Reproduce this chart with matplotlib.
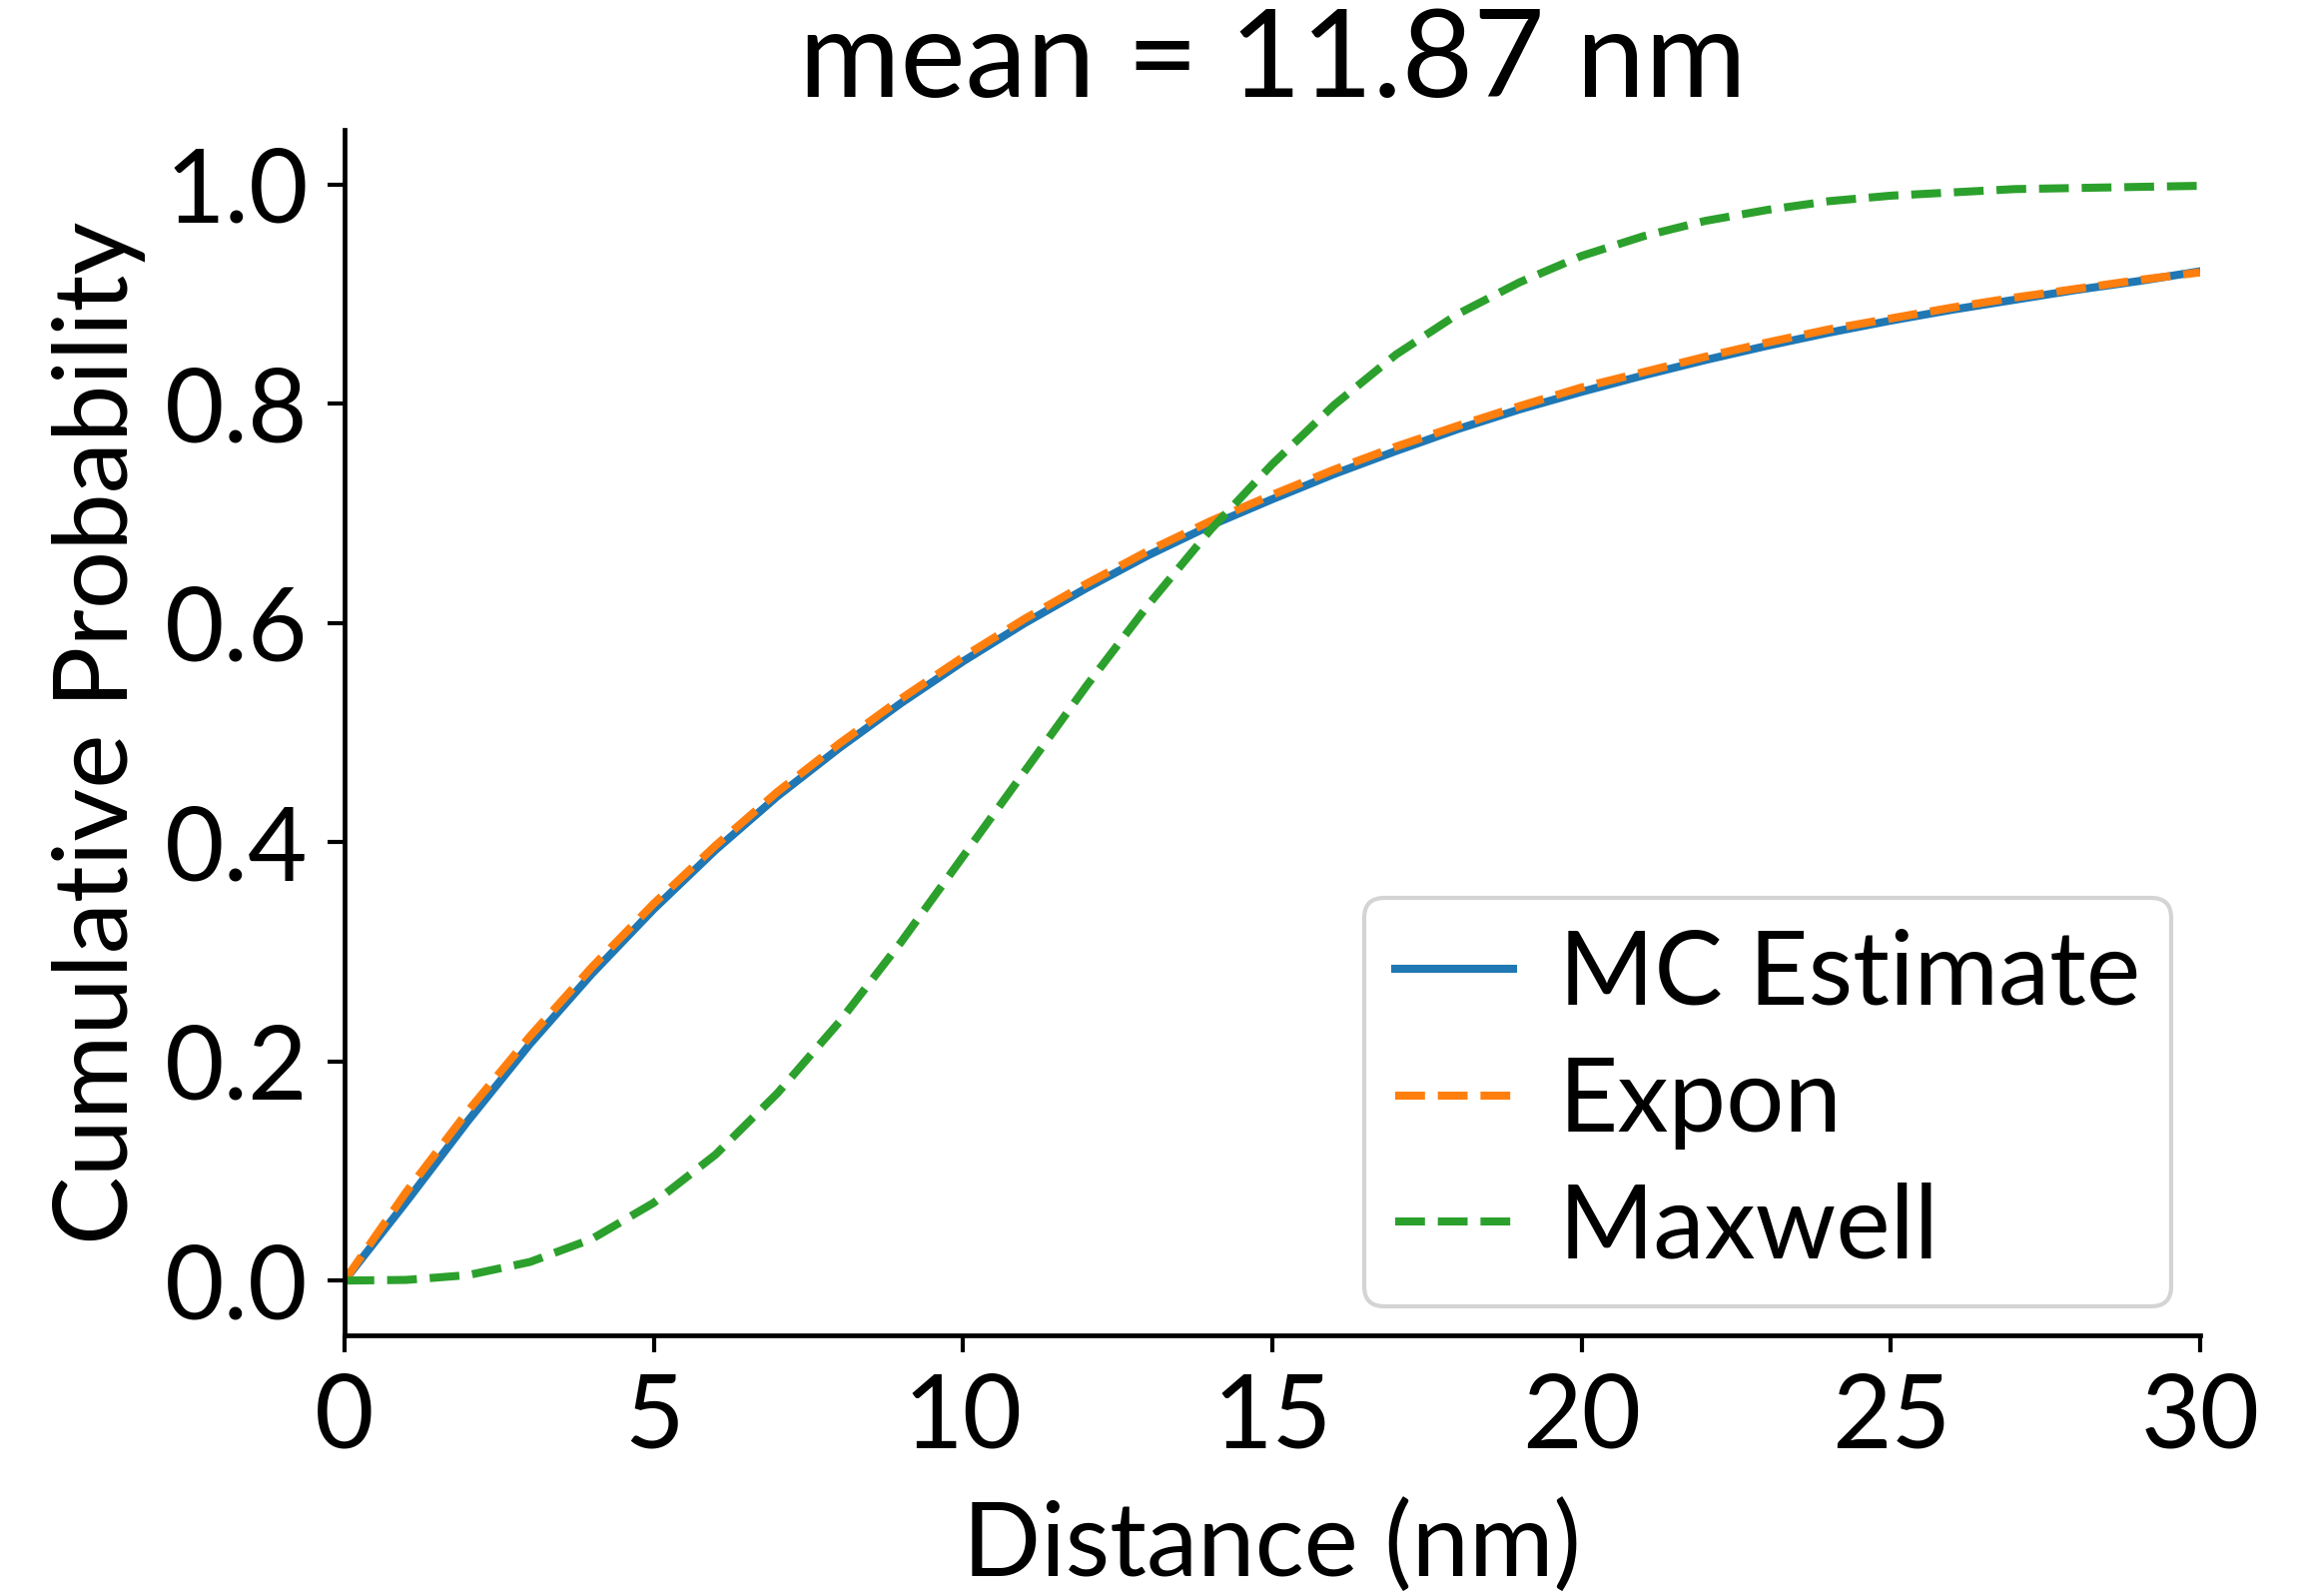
import matplotlib
matplotlib.use("Agg")
import matplotlib.pyplot as plt

# values (cumulative probability vs distance)
distance = [0, 1, 2, 3, 4, 5, 6, 7, 8, 9, 10, 11, 12, 13, 14, 15,
            16, 17, 18, 19, 20, 21, 22, 23, 24, 25, 26, 27, 28, 29, 30]
mc_estimate = [0.0, 0.072, 0.146, 0.216, 0.280, 0.339, 0.393, 0.442, 0.486, 0.527,
               0.565, 0.600, 0.632, 0.662, 0.689, 0.713, 0.736, 0.757, 0.777, 0.795,
               0.811, 0.826, 0.840, 0.853, 0.865, 0.876, 0.886, 0.895, 0.904, 0.912,
               0.921]
expon = [0.0, 0.081, 0.155, 0.223, 0.286, 0.344, 0.397, 0.446, 0.490, 0.531,
         0.569, 0.604, 0.636, 0.666, 0.693, 0.717, 0.740, 0.761, 0.780, 0.798,
         0.815, 0.829, 0.843, 0.856, 0.868, 0.878, 0.888, 0.897, 0.905, 0.913,
         0.920]
maxwell = [0.0, 0.0006, 0.005, 0.017, 0.038, 0.071, 0.115, 0.171, 0.236, 0.309,
           0.387, 0.465, 0.543, 0.617, 0.685, 0.745, 0.799, 0.845, 0.882, 0.911,
           0.935, 0.953, 0.967, 0.977, 0.985, 0.990, 0.993, 0.996, 0.997, 0.998,
           0.999]

plt.rcParams['font.family'] = ['Lato', 'DejaVu Sans']
plt.rcParams['font.size'] = 74

fig = plt.figure(figsize=(23.15, 15.98), dpi=100)
ax = fig.add_axes([0.149, 0.1633, 0.8026, 0.7553])

lw = 5.8
ax.plot(distance, mc_estimate, color='#1f77b4', lw=lw, label='MC Estimate')
ax.plot(distance, expon, color='#ff7f0e', lw=lw, ls='--', label='Expon')
ax.plot(distance, maxwell, color='#2ca02c', lw=lw, ls='--', label='Maxwell')

ax.set_xlim(0, 30)
ax.set_ylim(-0.05, 1.05)
ax.set_xticks([0, 5, 10, 15, 20, 25, 30])
ax.set_yticks([0.0, 0.2, 0.4, 0.6, 0.8, 1.0])

for side in ['top', 'right']:
    ax.spines[side].set_visible(False)
for side in ['left', 'bottom']:
    ax.spines[side].set_linewidth(3.4)
ax.tick_params(width=3.0, length=12, pad=14)

ax.set_xlabel('Distance (nm)', labelpad=24)
ax.set_ylabel('Cumulative Probability', labelpad=14)
ax.set_title('mean = 11.87 nm', pad=24)

leg = ax.legend(loc='lower right', handlelength=1.15, handletextpad=0.45,
                labelspacing=0.32, borderpad=0.3, borderaxespad=0.28, framealpha=1,
                edgecolor='#d4d4d4', fancybox=True)
leg.get_frame().set_linewidth(3.0)

fig.savefig('out.png', dpi=100)
